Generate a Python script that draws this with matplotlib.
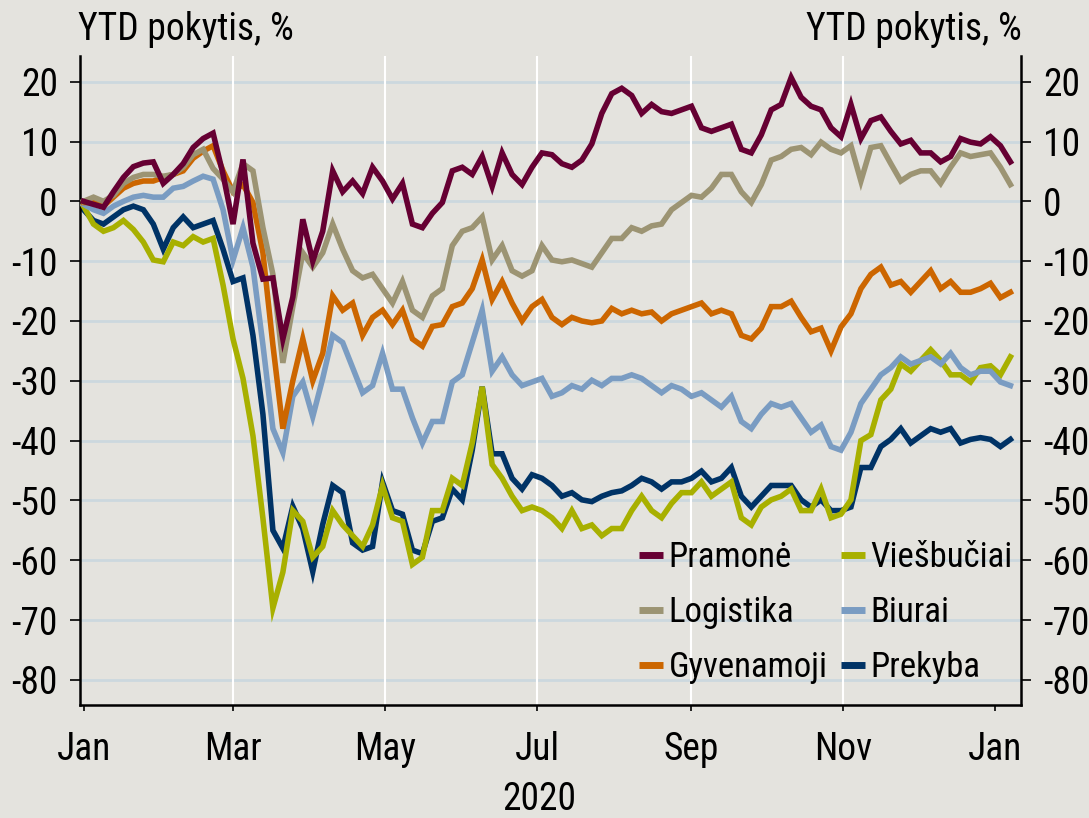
import numpy as np
import pandas as pd
import matplotlib
matplotlib.use('Agg')
import matplotlib.pyplot as plt
import matplotlib.transforms as mtransforms

plt.rcParams['font.family'] = ['Roboto Condensed', 'DejaVu Sans']
plt.rcParams['axes.unicode_minus'] = False

# one point every 4 days, 2020-01-01 .. 2021-01-07
dates = pd.date_range('2020-01-01', periods=94, freq='4D')

pramone = [0, -0.5, -1, 1.6, 4, 5.8, 6.4, 6.6, 3, 4.5, 6.3, 9, 10.5, 11.4, 4.5, -3.8, 7, -7, -13, -12.8,
           -23, -16, -3, -10, -5,
           5.1, 1.6, 3.4, 1.3, 5.7, 3.4, 0.4, 3, -3.8, -4.4, -2, -0.2, 5.1, 5.7, 4.5, 7.5, 2.5, 8.1, 4.5,
           2.8, 5.7,
           8.1, 7.8, 6.3, 5.7, 6.9, 9.6, 14.7, 18, 18.9, 17.7, 14.7, 16.2, 15, 14.7, 15.3, 15.9, 12.3,
           11.7, 12.3, 12.9, 8.7, 8.1, 11.1, 15.3,
           16.2, 20.7, 17.4, 15.9, 15.3, 12.3, 10.8, 16.2, 10.5, 13.5, 14.1, 11.7, 9.6, 10.2, 8.1, 8.1,
           6.6, 7.5, 10.5, 9.9, 9.6, 10.8, 9.3, 6.6]
logistika = [0, 0.7, 0, 1, 3, 4, 4.5, 4.5, 4.2, 4.5, 5.7, 7.8, 8.7, 5.5, 3.7, 1.6, 6.3, 5.1, -4.4, -12.2,
             -27, -17.6, -8.6, -11, -8.6,
             -3.8, -8, -11.6, -12.8, -12.2, -14.6, -17, -13.4, -18.2, -19.4, -15.8, -14.6, -7.4, -5,
             -4.4, -2.6, -9.8, -7.4, -11.6, -12.5, -11.6,
             -7.4, -9.8, -10.1, -9.8, -10.4, -11, -8.6, -6.2, -6.2, -4.4, -5, -4.1, -3.8, -1.4, -0.2, 1,
             0.7, 2.2, 4.5, 4.5, 1.6, -0.2, 2.8, 6.9,
             7.5, 8.7, 9, 7.8, 9.9, 8.7, 8.1, 9.3, 3.4, 9, 9.3, 6.3, 3.4, 4.5, 5.1, 5.1, 3, 5.7, 8.1,
             7.5, 7.8, 8.1, 5.7, 2.8]
gyvenamoji = [-0.2, -0.2, -0.8, 0.7, 2.2, 3, 3.4, 3.4, 4, 4.5, 5.1, 7.2, 8.4, 9.3, 5.1, 1.6, 2.8, -0.2,
              -8.6, -24, -38, -30, -23, -30, -25.4,
              -15.8, -18.2, -17, -22.4, -19.4, -18.2, -20.6, -18.2, -23, -24.2, -20.9, -20.6, -17.6,
              -17, -14.6, -9.8, -16.4, -13.4, -17, -20, -17.6,
              -16.4, -19.4, -20.6, -19.4, -20, -20.3, -20, -17.9, -18.8, -18.2, -18.8, -18.5, -20,
              -18.8, -18.2, -17.6, -17, -18.8, -18.2, -18.8, -22.4, -23, -21.2, -17.6,
              -17.6, -16.7, -19.4, -21.8, -21.2, -25, -21, -18.8, -14.6, -12.2, -11, -14, -13.4,
              -15.2, -13.4, -11.6, -14.6, -13.4, -15.2, -15.2, -14.6, -13.7, -16.1, -15.2]
viesbuciai = [-0.8, -3.8, -5, -4.4, -3.2, -4.7, -6.8, -9.8, -10.1, -6.8, -7.4, -5.9, -6.8, -6.2, -14,
              -23, -29.6, -39.2, -53, -68, -62, -51.7, -53.5, -59.5, -57.7,
              -51.7, -54.1, -55.9, -57.7, -54.1, -47.5, -52.9, -53.5, -60.7, -59.5, -51.7, -51.7,
              -46.3, -47.5, -40.4, -31, -44, -46.3, -49.3, -51.7, -51.1,
              -51.7, -52.9, -54.7, -51.7, -54.7, -54.1, -55.9, -54.7, -54.7, -51.7, -49.3, -51.7,
              -52.9, -50.5, -48.7, -48.7, -46.9, -49.3, -48.1, -46.9, -52.9, -54.1, -51.1, -49.9,
              -49.3, -48.1, -51.7, -51.7, -48.1, -52.9, -52.3, -49.9, -40, -39, -33.2, -31.4, -27.2,
              -28.4, -26.6, -24.8, -26.6, -29, -29, -30.2, -27.8, -27.5, -29, -26]
biurai = [-0.5, -1.4, -2, -0.8, 0, 0.7, 1, 0.7, 0.7, 2.2, 2.5, 3.4, 4.2, 3.7, -1.4, -9.8, -4.4, -11, -24,
          -38, -42, -32.6, -30.2, -36, -29.6,
          -22.4, -23.6, -27.8, -32, -30.8, -25.4, -31.4, -31.4, -36.2, -40.4, -36.8, -36.8, -30.2, -29,
          -23.6, -18.2, -28.4, -26, -29, -30.8, -30.2,
          -29.6, -32.6, -32, -30.8, -31.4, -29.9, -30.8, -29.6, -29.6, -29, -29.6, -30.8, -32, -30.8,
          -31.4, -32.6, -32, -33.2, -34.4, -32.6, -36.8, -38, -35.6, -33.8,
          -34.4, -33.8, -36.2, -38.6, -37.4, -41, -41.6, -38.6, -33.8, -31.4, -29, -27.8, -26, -27.2,
          -26.6, -26, -27.2, -25.4, -27.8, -29, -28.4, -28.4, -30.2, -30.8]
prekyba = [-1.4, -3.2, -3.8, -2.6, -1.4, -0.8, -1.4, -3.8, -8, -4.4, -2.6, -4.4, -3.8, -3.2, -8, -13.4,
           -12.8, -22.4, -35.6, -55, -58, -51, -54.7, -61.9, -54,
           -47.5, -48.7, -57.1, -58.3, -57.7, -46.9, -51.7, -52.3, -58.3, -58.9, -53.5, -52.9, -48.1,
           -49.9, -41.6, -31, -42.2, -42.2, -46.3, -48.1, -45.7,
           -46.3, -47.5, -49.3, -48.7, -49.9, -50.2, -49.3, -48.7, -48.4, -47.5, -46.3, -46.9, -48.1,
           -46.9, -46.9, -46.3, -45.1, -46.9, -46.3, -44.5, -49.3, -51.1, -49.3, -47.5,
           -47.5, -47.5, -49.9, -51.1, -49.9, -51.7, -51.7, -51.1, -44.5, -44.5, -41, -39.8, -38, -40.4,
           -39.2, -38, -38.6, -38, -40.4, -39.8, -39.5, -39.8, -41, -39.8]

series = [
    ('Pramonė', pramone, '#660033'),
    ('Logistika', logistika, '#9c9473'),
    ('Gyvenamoji', gyvenamoji, '#cc6600'),
    ('Viešbučiai', viesbuciai, '#a8b000'),
    ('Biurai', biurai, '#7a9cc2'),
    ('Prekyba', prekyba, '#003366'),
]
draw_order = ['Prekyba', 'Viešbučiai', 'Biurai', 'Gyvenamoji', 'Logistika', 'Pramonė']

yticks = list(range(-80, 21, 10))
month_ticks = pd.to_datetime(['2020-01-01', '2020-03-01', '2020-05-01', '2020-07-01',
                              '2020-09-01', '2020-11-01', '2021-01-01'])
month_labels = ['Jan', 'Mar', 'May', 'Jul', 'Sep', 'Nov', 'Jan']

bg = '#e4e3de'
fig = plt.figure(figsize=(10.89, 8.18), dpi=100, facecolor=bg)
ax = fig.add_axes([80/1089, 1-705/818, (1021-80)/1089, (705-56)/818])
ax.set_facecolor(bg)

for y in yticks:
    ax.axhline(y, color='#ccd8de', lw=2, zorder=0)
for d in month_ticks[1:-1]:
    ax.axvline(d, color='white', lw=1.5, zorder=0)

lines = {}
for name, vals, col in series:
    lines[name] = (dates, vals, col)
for z, name in enumerate(draw_order):
    d, v, c = lines[name]
    ax.plot(d, v, color=c, lw=4, zorder=2 + z, label=name, solid_joinstyle='miter')

ax.set_xlim(pd.Timestamp('2019-12-30 14:00'), pd.Timestamp('2021-01-11 06:00'))
ax.set_ylim(-84.2, 24.3)

ax.set_yticks(yticks)
ax.set_yticklabels([str(v) for v in yticks])
ax.tick_params(axis='y', which='both', left=True, right=True, labelleft=True, labelright=True,
               direction='out', length=7, width=1.2, pad=9, labelsize=27)

ax.set_xticks(month_ticks)
ax.set_xticklabels(month_labels)
ax.set_xticks(month_ticks[[0, -1]], minor=True)
ax.tick_params(axis='x', which='major', direction='out', length=4, width=1.2, pad=15, labelsize=27)
ax.tick_params(axis='x', which='minor', direction='out', length=12, width=1.2)

for s in ['left', 'bottom', 'right']:
    ax.spines[s].set_linewidth(1.8)
ax.spines['top'].set_visible(False)

fig.text(78/1089, 1-30/818, 'YTD pokytis, %', ha='left', va='center', fontsize=27)
fig.text(1022/1089, 1-30/818, 'YTD pokytis, %', ha='right', va='center', fontsize=27)

trans = mtransforms.blended_transform_factory(ax.transData, fig.transFigure)
ax.text(pd.Timestamp('2020-07-02'), 1-799/818, '2020', transform=trans, ha='center', va='center',
        fontsize=27)

# legend: two single-column blocks
handles, labels = ax.get_legend_handles_labels()
hmap = dict(zip(labels, handles))
cols = [(['Pramonė', 'Logistika', 'Gyvenamoji'], 639), (['Viešbučiai', 'Biurai', 'Prekyba'], 841)]
for names, xpix in cols:
    leg = fig.legend([hmap[n] for n in names], names, ncol=1, frameon=False, fontsize=25,
                     loc='upper left', bbox_to_anchor=(xpix/1089, 1-541/818),
                     handlelength=0.7, handletextpad=0.15, labelspacing=0.64,
                     borderpad=0, borderaxespad=0)
    for h in leg.get_lines():
        h.set_linewidth(5)
        h.set_solid_capstyle('butt')

fig.savefig('out.png', dpi=100, facecolor=bg)
